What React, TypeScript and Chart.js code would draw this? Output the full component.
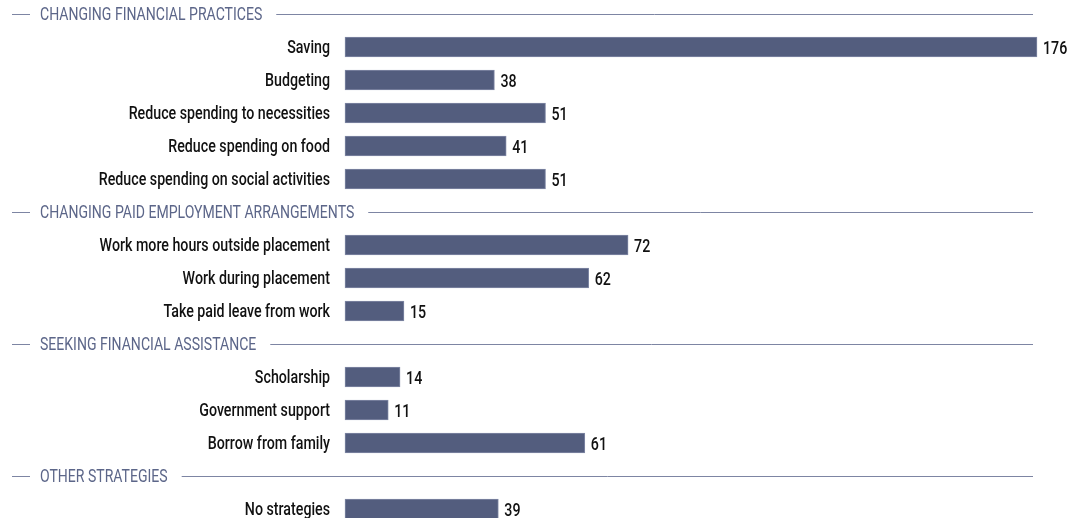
import React, { useEffect, useRef } from "react";
import { Chart, registerables } from "chart.js";

Chart.register(...registerables);

const SECTION_TITLES = [
  "CHANGING FINANCIAL PRACTICES",
  "CHANGING PAID EMPLOYMENT ARRANGEMENTS",
  "SEEKING FINANCIAL ASSISTANCE",
  "OTHER STRATEGIES",
];

const FINANCIAL_LABELS = [
  "Saving",
  "Budgeting",
  "Reduce spending to necessities",
  "Reduce spending on food",
  "Reduce spending on social activities",
];
const FINANCIAL_VALUES = [176, 38, 51, 41, 51];

const EMPLOYMENT_LABELS = [
  "Work more hours outside placement",
  "Work during placement",
  "Take paid leave from work",
];
const EMPLOYMENT_VALUES = [72, 62, 15];

const ASSISTANCE_LABELS = ["Scholarship", "Government support", "Borrow from family"];
const ASSISTANCE_VALUES = [14, 11, 61];

const OTHER_LABELS = ["No strategies"];
const OTHER_VALUES = [39];

const GROUP_LABELS = [FINANCIAL_LABELS, EMPLOYMENT_LABELS, ASSISTANCE_LABELS, OTHER_LABELS];
const GROUP_VALUES = [FINANCIAL_VALUES, EMPLOYMENT_VALUES, ASSISTANCE_VALUES, OTHER_VALUES];

const FONT = "Roboto, 'DejaVu Sans', sans-serif";
const SX_HEADER = 0.78;
const SX_LABEL = 0.79;

function drawCondensed(
  ctx: CanvasRenderingContext2D,
  text: string,
  x: number,
  y: number,
  align: CanvasTextAlign,
  sx: number
) {
  ctx.save();
  ctx.translate(x, y);
  ctx.scale(sx, 1);
  ctx.textAlign = align;
  ctx.fillText(text, 0, 0);
  ctx.restore();
}

export default function App() {
  const ref = useRef<HTMLCanvasElement | null>(null);

  useEffect(() => {
    if (!ref.current) return;
    const rowLabels: string[] = [];
    const rowValues: (number | null)[] = [];
    const headerRows: { index: number; title: string }[] = [];
    SECTION_TITLES.forEach((title, g) => {
      headerRows.push({ index: rowLabels.length, title });
      rowLabels.push("");
      rowValues.push(null);
      GROUP_LABELS[g].forEach((l, i) => {
        rowLabels.push(l);
        rowValues.push(GROUP_VALUES[g][i]);
      });
    });

    const textPlugin = {
      id: "textPlugin",
      afterDraw(chart: any) {
        const ctx: CanvasRenderingContext2D = chart.ctx;
        const y = chart.scales.y;
        ctx.save();
        ctx.textBaseline = "middle";

        // section headers
        ctx.font = `18px ${FONT}`;
        headerRows.forEach((h) => {
          const py = Math.round(y.getPixelForValue(h.index)) + 0.5;
          const w = ctx.measureText(h.title).width * SX_HEADER;
          ctx.strokeStyle = "#7d85a3";
          ctx.lineWidth = 1;
          ctx.beginPath();
          ctx.moveTo(12, py);
          ctx.lineTo(30, py);
          ctx.moveTo(40 + w + 14, py);
          ctx.lineTo(1033, py);
          ctx.stroke();
          ctx.fillStyle = "#5c6689";
          drawCondensed(ctx, h.title, 40, py + 1, "left", SX_HEADER);
        });

        // category labels
        ctx.font = `500 18px ${FONT}`;
        ctx.fillStyle = "#111111";
        rowLabels.forEach((label, i) => {
          if (!label) return;
          drawCondensed(ctx, label, chart.chartArea.left - 15, y.getPixelForValue(i) + 1, "right", SX_LABEL);
        });

        // value labels
        const meta = chart.getDatasetMeta(0);
        meta.data.forEach((bar: any, i: number) => {
          const v = rowValues[i];
          if (v == null) return;
          drawCondensed(ctx, String(v), bar.x + 6, bar.y + 2, "left", SX_LABEL);
        });
        ctx.restore();
      },
    };

    const chart = new Chart(ref.current, {
      type: "bar",
      data: {
        labels: rowLabels,
        datasets: [
          {
            data: rowValues as any,
            backgroundColor: "#535d7e",
            borderColor: "#8089a6",
            borderWidth: 1,
            borderSkipped: false,
            barThickness: 20,
            clip: false as any,
          },
        ],
      },
      options: {
        indexAxis: "y",
        animation: false,
        responsive: true,
        maintainAspectRatio: false,
        layout: { padding: { top: 14, bottom: 9, left: 0, right: 38 } },
        plugins: {
          legend: { display: false },
          tooltip: { enabled: false },
        },
        scales: {
          x: {
            display: false,
            min: 0,
            max: 176,
          },
          y: {
            offset: false,
            grid: { display: false, drawTicks: false },
            border: { display: false },
            afterFit(scale: any) {
              scale.width = 345;
              scale.paddingTop = 0;
              scale.paddingBottom = 0;
            },
            ticks: { display: false, autoSkip: false },
          },
        },
      },
      plugins: [textPlugin],
    });
    return () => chart.destroy();
  }, []);

  return (
    <div style={{ position: "absolute", left: 0, top: 0, width: 1075, height: 518, background: "#fff" }}>
      <canvas ref={ref} />
    </div>
  );
}
